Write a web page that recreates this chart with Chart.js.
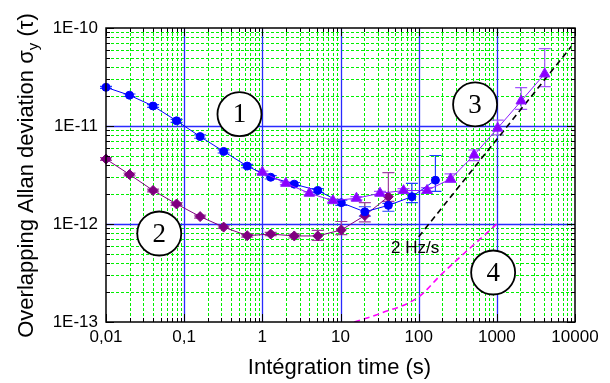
<!DOCTYPE html>
<html>
<head>
<meta charset="utf-8">
<script src="https://cdn.jsdelivr.net/npm/chart.js@4.4.1/dist/chart.umd.min.js"></script>
<style>
    html, body { margin: 0; padding: 0; background: #fff; }
    #wrap { width: 610px; height: 383px; }
</style>
</head>
<body>
<div id="wrap"><canvas id="chart" width="610" height="383"></canvas></div>
<script>
const xTicks = [0.01, 0.1, 1, 10, 100, 1000, 10000];
const yTicks = [1e-13, 1e-12, 1e-11, 1e-10];

/* curve 1 : blue circles */
const tau1 = [0.01, 0.02, 0.04, 0.08, 0.16, 0.32, 0.64, 1.28, 2.56, 5.12, 10.24, 20.48, 40.96, 81.92, 163.84];
const sigma1 = [2.48e-11, 2.06e-11, 1.60e-11, 1.13e-11, 7.8e-12, 5.5e-12, 3.9e-12, 3.0e-12, 2.55e-12, 2.2e-12, 1.65e-12, 1.33e-12, 1.55e-12, 1.9e-12, 2.8e-12];
const lo1 = [2.42e-11, 2.0e-11, 1.55e-11, 1.09e-11, 7.5e-12, 5.3e-12, 3.75e-12, 2.88e-12, 2.45e-12, 2.1e-12, 1.55e-12, 1.2e-12, 1.35e-12, 1.65e-12, 2.15e-12];
const hi1 = [2.54e-11, 2.12e-11, 1.65e-11, 1.17e-11, 8.1e-12, 5.7e-12, 4.05e-12, 3.12e-12, 2.65e-12, 2.3e-12, 1.75e-12, 1.5e-12, 1.62e-12, 2.6e-12, 5.0e-12];

/* curve 2 : purple diamonds */
const tau2 = [0.01, 0.02, 0.04, 0.08, 0.16, 0.32, 0.64, 1.28, 2.56, 5.12, 10.24, 20.48, 40.96];
const sigma2 = [4.6e-12, 3.2e-12, 2.2e-12, 1.6e-12, 1.19e-12, 9.3e-13, 7.6e-13, 7.9e-13, 7.55e-13, 7.55e-13, 8.7e-13, 1.22e-12, 1.9e-12];
const lo2 = [4.45e-12, 3.1e-12, 2.13e-12, 1.55e-12, 1.15e-12, 9.0e-13, 7.35e-13, 7.6e-13, 7.2e-13, 6.8e-13, 7.8e-13, 1.05e-12, 1.7e-12];
const hi2 = [4.75e-12, 3.3e-12, 2.27e-12, 1.65e-12, 1.23e-12, 9.6e-13, 7.85e-13, 8.2e-13, 7.9e-13, 8.6e-13, 1.06e-12, 1.65e-12, 3.35e-12];

/* curve 3 : violet triangles */
const tau3 = [1, 2, 4, 8, 16, 32, 64, 128, 256, 512, 1024, 2048, 4096];
const sigma3 = [3.37e-12, 2.6e-12, 2.06e-12, 1.73e-12, 1.83e-12, 2.06e-12, 2.19e-12, 2.2e-12, 2.88e-12, 5.06e-12, 9.5e-12, 1.8e-11, 3.4e-11];
const lo3 = [3.27e-12, 2.52e-12, 1.99e-12, 1.67e-12, 1.76e-12, 1.97e-12, 2.08e-12, 2.05e-12, 2.65e-12, 4.43e-12, 8.1e-12, 1.48e-11, 2.52e-11];
const hi3 = [3.47e-12, 2.68e-12, 2.13e-12, 1.79e-12, 1.9e-12, 2.15e-12, 2.3e-12, 2.35e-12, 3.25e-12, 5.69e-12, 1.15e-11, 2.46e-11, 6.15e-11];

/* curve 4 : magenta dashed */
const tau4 = [15, 32, 100, 190, 380, 620, 1000];
const sigma4 = [1.0e-13, 1.22e-13, 1.8e-13, 3.0e-13, 5.0e-13, 7.1e-13, 1.0e-12];

/* 2 Hz/s drift line */
const tauDrift = [100, 9000];
const sigmaDrift = [7.4e-13, 6.5e-11];

const pts = (xs, ys) => xs.map((v, i) => ({ x: v, y: ys[i] }));

const SANS = '"Liberation Sans", Arial, sans-serif';
const SERIF = '"Liberation Serif", "Times New Roman", serif';

/* labels placed in data coordinates */
const circleLabels = [
    { text: "1", tau: 0.51, sigma: 1.32e-11 },
    { text: "2", tau: 0.048, sigma: 8.0e-13 },
    { text: "3", tau: 527, sigma: 1.66e-11 },
    { text: "4", tau: 897, sigma: 3.2e-13 }
];
const driftLabel = { text: "2 Hz/s", tau: 90, sigma: 5.6e-13 };

function minorValues(ticks) {
    const out = [];
    for (let i = 0; i < ticks.length - 1; i++) {
        for (let k = 2; k <= 9; k++) out.push(k * ticks[i]);
    }
    return out;
}

const gridPlugin = {
    id: "gridPlugin",
    beforeDatasetsDraw(chart) {
        const { ctx, chartArea: a, scales: { x, y } } = chart;
        ctx.save();
        ctx.lineWidth = 1;
        // minor grid, green dotted
        ctx.strokeStyle = "#00f000";
        ctx.setLineDash([3, 2]);
        ctx.beginPath();
        minorValues(xTicks).forEach((v) => {
            const px = Math.round(x.getPixelForValue(v)) + 0.5;
            ctx.moveTo(px, a.top);
            ctx.lineTo(px, a.bottom);
        });
        minorValues(yTicks).forEach((v) => {
            const py = Math.round(y.getPixelForValue(v)) + 0.5;
            ctx.moveTo(a.left, py);
            ctx.lineTo(a.right, py);
        });
        ctx.stroke();
        // major grid, blue
        ctx.setLineDash([]);
        ctx.strokeStyle = "#2a2aff";
        ctx.lineWidth = 1.3;
        ctx.beginPath();
        xTicks.slice(1, -1).forEach((v) => {
            const px = Math.round(x.getPixelForValue(v)) + 0.5;
            ctx.moveTo(px, a.top);
            ctx.lineTo(px, a.bottom);
        });
        yTicks.slice(1, -1).forEach((v) => {
            const py = Math.round(y.getPixelForValue(v)) + 0.5;
            ctx.moveTo(a.left, py);
            ctx.lineTo(a.right, py);
        });
        ctx.stroke();

        // error bars
        chart.data.datasets.forEach((ds, i) => {
            if (!ds.errLo) return;
            const meta = chart.getDatasetMeta(i);
            ctx.strokeStyle = ds.errColor;
            ctx.lineWidth = 1.2;
            ctx.beginPath();
            meta.data.forEach((el, j) => {
                const px = el.x;
                const yl = y.getPixelForValue(ds.errLo[j]);
                const yh = y.getPixelForValue(ds.errHi[j]);
                ctx.moveTo(px, yl); ctx.lineTo(px, yh);
                ctx.moveTo(px - 6, yl); ctx.lineTo(px + 6, yl);
                ctx.moveTo(px - 6, yh); ctx.lineTo(px + 6, yh);
            });
            ctx.stroke();
        });
        ctx.restore();
    },
    afterDatasetsDraw(chart) {
        const { ctx, chartArea: a, scales: { x, y } } = chart;
        ctx.save();
        // tick marks pointing inward on all four sides
        ctx.strokeStyle = "#000";
        ctx.lineWidth = 1;
        ctx.beginPath();
        const tx = (v, len) => {
            const px = Math.round(x.getPixelForValue(v)) + 0.5;
            ctx.moveTo(px, a.bottom); ctx.lineTo(px, a.bottom - len);
            ctx.moveTo(px, a.top); ctx.lineTo(px, a.top + len);
        };
        const ty = (v, len) => {
            const py = Math.round(y.getPixelForValue(v)) + 0.5;
            ctx.moveTo(a.left, py); ctx.lineTo(a.left + len, py);
            ctx.moveTo(a.right, py); ctx.lineTo(a.right - len, py);
        };
        minorValues(xTicks).forEach((v) => tx(v, 4));
        xTicks.forEach((v) => tx(v, 8));
        minorValues(yTicks).forEach((v) => ty(v, 4));
        yTicks.forEach((v) => ty(v, 8));
        ctx.stroke();
        // frame
        ctx.lineWidth = 1.5;
        ctx.strokeRect(a.left, a.top, a.right - a.left, a.bottom - a.top);

        // circled curve numbers
        circleLabels.forEach((c) => {
            const cx = x.getPixelForValue(c.tau);
            const cy = y.getPixelForValue(c.sigma);
            ctx.fillStyle = "#fff";
            ctx.lineWidth = 1.8;
            ctx.beginPath();
            ctx.arc(cx, cy, 22, 0, Math.PI * 2);
            ctx.fill();
            ctx.stroke();
            ctx.fillStyle = "#000";
            ctx.font = "27px " + SERIF;
            ctx.textAlign = "center";
            ctx.textBaseline = "middle";
            ctx.fillText(c.text, cx, cy + 1);
        });

        ctx.font = "17px " + SANS;
        ctx.textAlign = "center";
        ctx.textBaseline = "middle";
        ctx.fillText(driftLabel.text, x.getPixelForValue(driftLabel.tau), y.getPixelForValue(driftLabel.sigma));

        // x axis title
        ctx.font = "22px " + SANS;
        ctx.textBaseline = "alphabetic";
        ctx.fillText("Intégration time (s)", (a.left + a.right) / 2 - 1, 374);

        // y axis title with subscript
        const p1 = "Overlapping Allan deviation σ", p2 = "y", p3 = " (τ)";
        const big = "22px " + SANS, small = "15px " + SANS;
        ctx.font = big;
        const w1 = ctx.measureText(p1).width, w3 = ctx.measureText(p3).width;
        ctx.font = small;
        const w2 = ctx.measureText(p2).width;
        ctx.translate(33, 175.5);
        ctx.rotate(-Math.PI / 2);
        ctx.textAlign = "left";
        let x0 = -(w1 + w2 + w3) / 2;
        ctx.font = big;
        ctx.fillText(p1, x0, 0);
        ctx.font = small;
        ctx.fillText(p2, x0 + w1, 5);
        ctx.font = big;
        ctx.fillText(p3, x0 + w1 + w2, 0);
        ctx.restore();
    }
};

const ctx = document.getElementById("chart").getContext("2d");

new Chart(ctx, {
    type: "scatter",
    data: {
        datasets: [
            {
                data: pts(tau3, sigma3),
                showLine: true,
                clip: false,
                borderColor: "#8c1aff",
                backgroundColor: "#8c00ff",
                borderWidth: 1,
                pointStyle: "triangle",
                pointRadius: 6,
                errLo: lo3, errHi: hi3, errColor: "#a555ff"
            },
            {
                data: pts(tau1, sigma1),
                showLine: true,
                clip: false,
                borderColor: "#0000ff",
                backgroundColor: "#0000ff",
                borderWidth: 1,
                pointStyle: "circle",
                pointRadius: 4,
                errLo: lo1, errHi: hi1, errColor: "#2040ff"
            },
            {
                data: pts(tau2, sigma2),
                showLine: true,
                clip: false,
                borderColor: "#800080",
                backgroundColor: "#800080",
                borderWidth: 1,
                pointStyle: "rectRot",
                pointRadius: 5,
                errLo: lo2, errHi: hi2, errColor: "#a040a0"
            },
            {
                data: pts(tauDrift, sigmaDrift),
                showLine: true,
                borderColor: "#000",
                borderWidth: 1.6,
                borderDash: [6, 4],
                pointRadius: 0
            },
            {
                data: pts(tau4, sigma4),
                showLine: true,
                borderColor: "#ff00ff",
                borderWidth: 1.6,
                borderDash: [6, 4],
                pointRadius: 0,
                cubicInterpolationMode: "monotone"
            }
        ]
    },
    options: {
        responsive: false,
        animation: false,
        layout: { padding: { top: 28, right: 35, left: 0, bottom: 0 } },
        plugins: {
            legend: { display: false },
            tooltip: { enabled: false }
        },
        scales: {
            x: {
                type: "logarithmic",
                min: 0.01,
                max: 10000,
                grid: { display: false, drawTicks: false },
                border: { display: false },
                afterBuildTicks: (s) => { s.ticks = xTicks.map((v) => ({ value: v })); },
                afterFit: (s) => { s.height = 61; },
                ticks: {
                    autoSkip: false,
                    maxRotation: 0,
                    padding: 5,
                    color: "#000",
                    font: { family: SANS, size: 17 },
                    callback: (v) => String(v).replace(".", ",")
                }
            },
            y: {
                type: "logarithmic",
                min: 1e-13,
                max: 1e-10,
                grid: { display: false, drawTicks: false },
                border: { display: false },
                afterBuildTicks: (s) => { s.ticks = yTicks.map((v) => ({ value: v })); },
                afterFit: (s) => { s.width = 106; },
                ticks: {
                    autoSkip: false,
                    padding: 8,
                    color: "#000",
                    font: { family: SANS, size: 17 },
                    callback: (v) => "1E" + Math.round(Math.log10(v))
                }
            }
        }
    },
    plugins: [gridPlugin]
});
</script>
</body>
</html>
